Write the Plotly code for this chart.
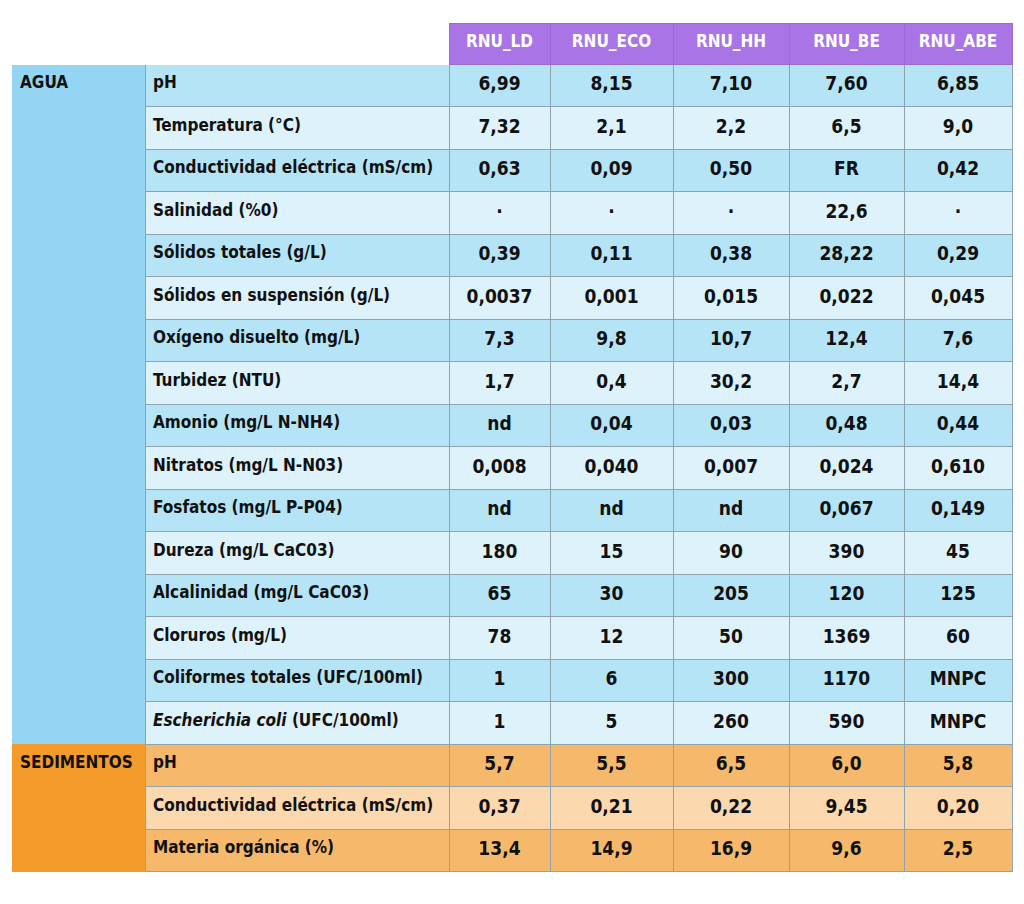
import plotly.graph_objects as go

# Sites (header) and the parameter rows
sites = ["RNU_LD", "RNU_ECO", "RNU_HH", "RNU_BE", "RNU_ABE"]

agua_params = [
    "pH",
    "Temperatura (°C)",
    "Conductividad eléctrica (mS/cm)",
    "Salinidad (%0)",
    "Sólidos totales (g/L)",
    "Sólidos en suspensión (g/L)",
    "Oxígeno disuelto (mg/L)",
    "Turbidez (NTU)",
    "Amonio (mg/L N-NH4)",
    "Nitratos (mg/L N-N03)",
    "Fosfatos (mg/L P-P04)",
    "Dureza (mg/L CaC03)",
    "Alcalinidad (mg/L CaC03)",
    "Cloruros (mg/L)",
    "Coliformes totales (UFC/100ml)",
    "<i>Escherichia coli</i> (UFC/100ml)",
]
sed_params = [
    "pH",
    "Conductividad eléctrica (mS/cm)",
    "Materia orgánica (%)",
]

rnu_ld = ["6,99", "7,32", "0,63", "·", "0,39", "0,0037", "7,3", "1,7", "nd", "0,008",
          "nd", "180", "65", "78", "1", "1", "5,7", "0,37", "13,4"]
rnu_eco = ["8,15", "2,1", "0,09", "·", "0,11", "0,001", "9,8", "0,4", "0,04", "0,040",
           "nd", "15", "30", "12", "6", "5", "5,5", "0,21", "14,9"]
rnu_hh = ["7,10", "2,2", "0,50", "·", "0,38", "0,015", "10,7", "30,2", "0,03", "0,007",
          "nd", "90", "205", "50", "300", "260", "6,5", "0,22", "16,9"]
rnu_be = ["7,60", "6,5", "FR", "22,6", "28,22", "0,022", "12,4", "2,7", "0,48", "0,024",
          "0,067", "390", "120", "1369", "1170", "590", "6,0", "9,45", "9,6"]
rnu_abe = ["6,85", "9,0", "0,42", "·", "0,29", "0,045", "7,6", "14,4", "0,44", "0,610",
           "0,149", "45", "125", "60", "MNPC", "MNPC", "5,8", "0,20", "2,5"]

BLUE_GROUP = "#93d5f3"
BLUE_DARK = "#b5e4f6"
BLUE_LIGHT = "#ddf2fa"
ORANGE_GROUP = "#f39c2c"
ORANGE_DARK = "#f6b86b"
ORANGE_LIGHT = "#fbd8ad"
PURPLE = "#a874e6"
LINE = "#8fa3ae"
FONT = "DejaVu Sans Condensed, sans-serif"


def bold(txt):
    return "<b>%s</b>" % txt if txt else ""


n_agua = len(agua_params)
n_sed = len(sed_params)
n_rows = n_agua + n_sed

group_col = [bold("AGUA")] + [""] * (n_agua - 1) + [bold("SEDIMENTOS")] + [""] * (n_sed - 1)
param_col = [bold(p) for p in agua_params + sed_params]
data_cols = [[bold(v) for v in col] for col in (rnu_ld, rnu_eco, rnu_hh, rnu_be, rnu_abe)]

row_fill = [(BLUE_DARK if i % 2 == 0 else BLUE_LIGHT) for i in range(n_agua)] + \
           [(ORANGE_DARK if i % 2 == 0 else ORANGE_LIGHT) for i in range(n_sed)]
group_fill = [BLUE_GROUP] * n_agua + [ORANGE_GROUP] * n_sed

fill_colors = [group_fill] + [row_fill] * 6
line_colors = [group_fill] + [[LINE] * n_rows] * 6

# page body has an 8px margin, so the figure is laid out 8px smaller
W, H, OFF = 1016, 896, 8

fig = go.Figure(go.Table(
    columnwidth=[133, 304, 101, 123, 116, 115, 108],
    header=dict(
        values=["", ""] + [bold(s) for s in sites],
        fill_color=["white", "white"] + [PURPLE] * 5,
        line_color=["white", "white"] + ["#9a6ad6"] * 5,
        font=dict(family=FONT, size=17, color="white"),
        align="center",
        height=41,
    ),
    cells=dict(
        values=[group_col, param_col] + data_cols,
        fill_color=fill_colors,
        line_color=line_colors,
        font=dict(family=FONT, size=[17, 17, 19, 19, 19, 19, 19], color="#111111"),
        align=["left", "left", "center", "center", "center", "center", "center"],
        height=42.5,
    ),
    domain=dict(x=[(12 - OFF) / W, (1012 - OFF) / W], y=[0, 1 - (23 - OFF) / H]),
))

fig.update_layout(
    width=W,
    height=H,
    margin=dict(l=0, r=0, t=0, b=0),
    paper_bgcolor="white",
)

fig.write_html("out.html")
